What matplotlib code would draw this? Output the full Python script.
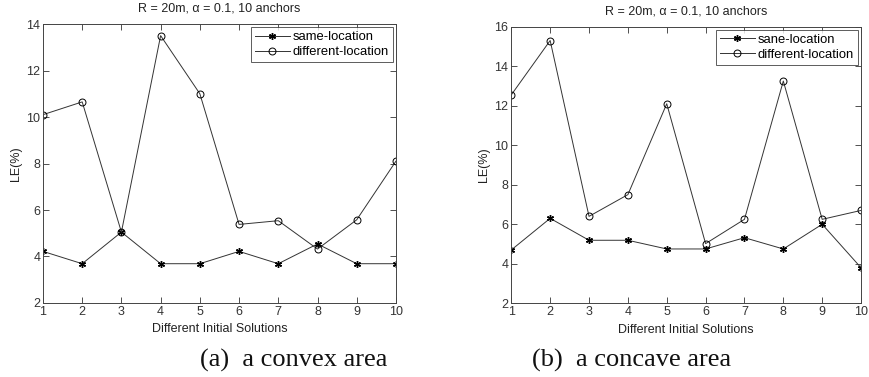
import matplotlib
matplotlib.use("Agg")
import matplotlib.pyplot as plt

plt.rcParams["font.family"] = ["Liberation Sans", "DejaVu Sans"]

x = list(range(1, 11))

# (a) convex area
convex_same = [4.22, 3.69, 5.05, 3.69, 3.69, 4.22, 3.69, 4.54, 3.69, 3.69]
convex_diff = [10.1, 10.65, 5.05, 13.5, 11.0, 5.38, 5.54, 4.32, 5.58, 8.1]

# (b) concave area
concave_same = [4.7, 6.3, 5.19, 5.19, 4.75, 4.75, 5.32, 4.75, 6.0, 3.8]
concave_diff = [12.55, 15.3, 6.4, 7.5, 12.1, 5.02, 6.25, 13.25, 6.25, 6.7]

title = "R = 20m, \u03b1 = 0.1, 10 anchors"
xlabel = "Different Initial Solutions"
ylabel = "LE(%)"

panels = [
    dict(pos=[0.0494, 0.1963, 0.4057, 0.740], same=convex_same, diff=convex_diff,
         ylim=(2, 14), yticks=[2, 4, 6, 8, 10, 12, 14],
         labels=("same-location", "different-location"),
         caption="(a)  a convex area", cap_x=0.338),
    dict(pos=[0.5877, 0.1955, 0.4020, 0.7337], same=concave_same, diff=concave_diff,
         ylim=(2, 16), yticks=[2, 4, 6, 8, 10, 12, 14, 16],
         labels=("sane-location", "different-location"),
         caption="(b)  a concave area", cap_x=0.726),
]

fig = plt.figure(figsize=(8.7, 3.77), dpi=100)

for p in panels:
    ax = fig.add_axes(p["pos"])
    ax.plot(x, p["same"], color="#333333", lw=0.7, marker=(6, 2, 0), ms=5,
            mec="black", mew=1.0, label=p["labels"][0])
    ax.plot(x, p["diff"], color="#333333", lw=0.7, marker="o", ms=5,
            mec="black", mfc="none", mew=0.7, label=p["labels"][1])
    ax.set_xlim(1, 10)
    ax.set_ylim(*p["ylim"])
    ax.set_xticks(x)
    ax.set_yticks(p["yticks"])
    ax.tick_params(direction="in", top=True, right=True, length=4, width=0.6,
                   labelsize=9, colors="#333333", pad=2)
    for s in ax.spines.values():
        s.set_linewidth(0.7)
        s.set_color("#444444")
    ax.set_title(title, fontsize=9, pad=9, color="#222222")
    ax.set_xlabel(xlabel, fontsize=9, labelpad=4, color="#222222")
    ax.set_ylabel(ylabel, fontsize=9, labelpad=3, color="#222222")
    leg = ax.legend(loc="upper right", fontsize=9.4, frameon=True, fancybox=False,
                    handlelength=2.7, handletextpad=0.2, borderpad=0.3,
                    labelspacing=0.2, borderaxespad=0.25)
    leg.get_frame().set_edgecolor("#333333")
    leg.get_frame().set_linewidth(0.7)
    fig.text(p["cap_x"], 0.045, p["caption"], ha="center", va="center",
             fontsize=19, family="Liberation Serif", color="#111111")

fig.savefig("out.png", dpi=100)
